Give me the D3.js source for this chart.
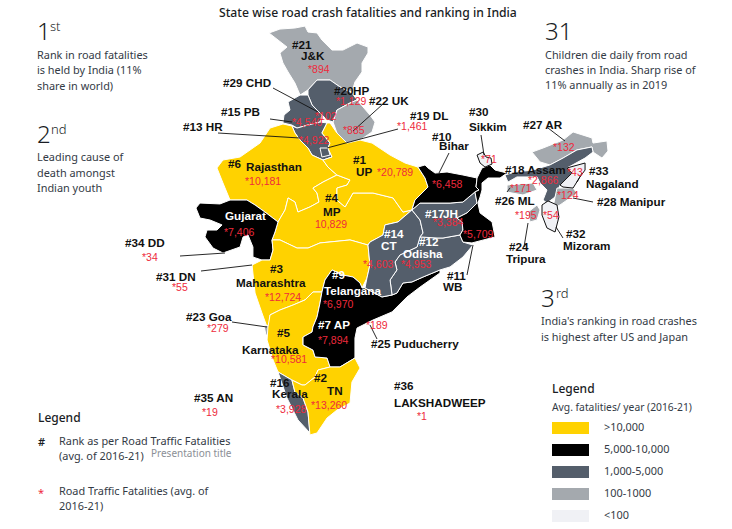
<!DOCTYPE html>
<html lang="en">
<head>
    <meta charset="UTF-8">
    <title>State wise road crash fatalities and ranking in India</title>
    <script src="https://d3js.org/d3.v7.min.js" charset="utf-8"></script>
    <style>
        body { margin: 0; background: white; }
        svg { display: block; }
        text { font-family: "Noto Sans", sans-serif; fill: #333a45; }
        .map-label { font-family: "Liberation Sans", Arial, sans-serif; font-size: 11.7px; font-weight: bold; fill: #111; }
        .map-label.light { fill: #fff; }
        .map-value { font-family: "Liberation Sans", Arial, sans-serif; font-size: 10.5px; fill: #ee2a3c; }
        .body-text { font-size: 10.9px; }
    </style>
</head>

<body>
    <script>
        var regionNames = ["J&K", "HP", "UK", "PB", "HR", "DL", "Rajasthan", "MP", "UP", "Gujarat", "Maharashtra", "Goa",
            "Karnataka", "AP + Telangana", "Odisha", "CT", "JH", "Bihar", "WB", "AR", "Assam", "ML", "Manipur", "Tripura",
            "Kerala", "TN", "Sikkim", "Nagaland", "Mizoram"];

        var regionFatalities = [894, 1129, 885, 4540, 4922, 1461, 10181, 10829, 20789, 7406, 12724, 279,
            10581, 7894, 4953, 4603, 3384, 6458, 5709, 132, 2866, 171, 124, 195,
            3928, 13260, 71, 43, 54];

        var regionOutlines = [
            [[73.6,36.67],[74.33,36.93],[75.33,37],[76,37.13],[76.2,36.73],[76.8,36.67],[77.13,36.2],[77.8,35.53],[78.53,35.53],[79.47,36],[80.2,35.73],[80.2,35.33],[79.8,34.67],[79.8,34.07],[79.33,33.4],[79.13,32.73],[78.33,33.07],[77.67,33.53],[76.8,33.53],[76.2,32.87],[75.67,32.53],[75.33,33.33],[74.87,34.07],[74.53,34.67],[74.33,35.33],[74.8,35.73],[74.2,36.2]],
            [[76.2,32.87],[76.8,33.53],[77.67,33.53],[78.33,33.07],[79.13,32.67],[79.47,32.2],[79,32],[78.13,31.53],[77.87,30.73],[77.47,30.87],[76.8,31.53],[76.47,31.87],[76.2,32.53]],
            [[78.13,31.53],[79,32],[79.47,32.2],[80.33,31.2],[80.67,30.73],[80.47,30.07],[79.67,29.53],[78.8,29.33],[78.13,30],[77.87,30.73]],
            [[75.67,32.53],[76.2,32.53],[76.47,31.87],[76.8,31.53],[77.13,31.2],[77,30.73],[76.2,30.53],[75.47,30.33],[75.13,30.53],[74.53,30.67],[74.6,31.2],[75,31.53],[74.87,32.07]],
            [[75.13,30.47],[75.47,30.33],[76.2,30.53],[77,30.73],[77.47,30.67],[77.13,30],[77.67,29.33],[77.53,29],[77.8,28.4],[77.2,28.2],[76.47,28.53],[76.2,29],[75.67,29.53],[75.33,30]],
            [[77,29],[77.53,29],[77.67,28.53],[77.13,28.4]],
            [[70.13,27.67],[70.53,28.2],[71.67,28.4],[73,29.33],[73.67,30.33],[74.53,30.6],[75.13,30.47],[75.33,30],[75.67,29.53],[76.2,29],[76.47,28.53],[77.2,28.2],[77.53,27.73],[78.13,27.2],[77.2,26.73],[76.53,26.33],[76.8,26],[76.93,25.4],[76.33,25.07],[75.53,24.73],[75.33,25.4],[74.87,25.67],[74.67,24.87],[74.2,24.07],[73.33,24.73],[72.67,25.2],[72.13,25.53],[71,25.53],[70.53,26.67]],
            [[74.2,24.07],[74.67,24.87],[74.87,25.67],[75.33,25.4],[75.53,24.73],[76.33,25.07],[76.93,25.4],[76.8,26],[76.53,26.33],[77.2,26.73],[78.13,27.2],[79,26.87],[78.8,26.53],[78.13,26.33],[78.13,25.53],[78.67,25.07],[79.2,26],[80.53,26],[81.87,25.67],[82.53,24.73],[83.13,24.87],[82.2,24.07],[81.33,23.87],[81.2,23.2],[80.33,22.73],[80.2,22.53],[79,22.87],[77,22.67],[76.2,22.33],[75.47,22.33],[74.33,22.87],[73.8,22.87],[74,23.4]],
            [[77.67,30.67],[78.13,30],[78.8,29.33],[79.67,29.53],[80.47,29.33],[81.67,28.53],[82.67,28],[83.53,27.73],[84,27],[84.2,26.4],[83.33,25.53],[83.13,24.87],[82.53,24.73],[81.87,25.67],[80.53,26],[79.2,26],[78.67,25.07],[78.13,25.53],[78.13,26.33],[78.8,26.53],[79,26.87],[78.13,27.2],[77.53,27.73],[77.2,28.2],[77.8,28.4],[77.53,29],[77.67,29.33],[77.13,30],[77.47,30.67]],
            [[68.73,25],[69,25.33],[70.33,25.27],[71,25.53],[72.13,25.53],[72.67,25.2],[73.33,24.73],[74.2,24.07],[74,23.4],[73.8,22.87],[73.87,22.2],[73.67,21.53],[73.13,21.53],[72.53,21.73],[72.53,22.4],[72.2,23.2],[71.87,23.07],[71.67,22.4],[70.53,22],[69.87,22.33],[69.33,23.07],[69.47,23.53],[70.13,23.53],[70.47,23.87],[69.67,24.2],[69,24.33]],
            [[72.47,21.2],[73.13,21.53],[73.67,21.53],[73.87,22.2],[73.8,22.87],[74.33,22.87],[75.47,22.33],[76.2,22.33],[77,22.67],[79,22.87],[80.2,22.53],[80.33,21.2],[80.13,20.33],[79.8,19.67],[79.67,20],[79.2,20.4],[78.53,20.53],[77.8,20.87],[77.33,20.2],[77.13,19.4],[76.53,19.4],[76,18.87],[75.2,18.53],[74.33,18.2],[73.67,17.87],[73.67,17.2],[73.47,17.07],[73.13,18],[72.67,19.33]],
            [[73.27,17.13],[73.67,17.2],[73.6,16.53],[73.4,16.53]],
            [[73.67,17.87],[74.33,18.2],[75.2,18.53],[76,18.87],[76.53,19.4],[77.13,19.4],[77,18.67],[76.8,17.73],[76.53,17.07],[76.47,16.73],[75.87,16.4],[75.87,15.87],[76.53,15.53],[76.67,15.07],[77.47,15],[77.67,14.4],[76.87,14.2],[76.67,13.73],[76,13.2],[75.8,13.2],[75.13,13.53],[74.2,14.07],[73.87,14.87],[73.47,16.2],[73.53,17.07]],
            [[77.13,19.4],[77.33,20.2],[77.8,20.87],[78.53,20.53],[79.2,20.4],[79.67,20],[79.8,19.67],[80,19.67],[81.13,19.07],[81.8,19.2],[82.13,19.33],[82.53,20],[83.13,20.07],[83.87,20.4],[85,20.87],[85,20.67],[83.67,19.73],[82.8,19.07],[81.8,18.07],[80.53,17.53],[79.47,17],[79.33,16.33],[79.33,15],[78.33,14.4],[77.67,14.4],[77.47,15],[76.67,15.07],[76.53,15.53],[75.87,15.87],[75.87,16.4],[76.47,16.73],[76.53,17.07],[76.8,17.73],[77,18.67]],
            [[81.8,19.2],[81.67,20.2],[82.13,20.87],[82,21.4],[82.33,21.87],[83.47,22.4],[83.67,23.07],[84.8,23],[85.2,23],[86.33,23.2],[86.53,22.73],[87.2,22.53],[86.53,21.73],[85.67,21.07],[85,20.87],[83.87,20.4],[83.13,20.07],[82.53,20],[82.13,19.33]],
            [[83.13,24.87],[82.2,24.07],[81.33,23.87],[81.2,23.2],[80.33,22.73],[80.2,22.53],[80.33,21.2],[80.13,20.33],[80,19.67],[81.13,19.07],[81.8,19.2],[81.67,20.2],[82.13,20.87],[82,21.4],[82.33,21.87],[83.47,22.4],[83.67,23.07],[83.87,23.33],[83.67,24.2]],
            [[83.13,24.87],[83.67,25.33],[85.67,25.33],[86.53,25.4],[87.33,26.07],[87.47,25.33],[86.8,24.67],[86.13,24.33],[86.47,24.07],[86.53,23.53],[86.33,23.2],[85.2,23],[84.8,23],[83.67,23.07],[83.87,23.33],[83.67,24.2]],
            [[83.53,27.73],[84,27.87],[84.2,27.67],[84.67,27.33],[85.47,27.4],[86.53,27.2],[87.47,27],[87.4,26.4],[87.6,26.2],[87.33,26.07],[86.53,25.4],[85.67,25.33],[83.67,25.33],[83.13,24.87],[83.33,25.53],[84.2,26.4],[84,27]],
            [[87.8,27.67],[88.33,27.87],[88.67,27.53],[89.2,27.4],[89.47,27.33],[89,27],[88.2,27],[87.8,26.67],[87.8,26.2],[87.67,25.73],[87.53,25.33],[87.67,24.67],[88.47,24.07],[88.67,23.07],[87.13,22.67],[86.53,22.73],[86.33,23.2],[86.53,23.53],[86.47,24.07],[86.13,24.33],[86.8,24.67],[87.47,25.33],[87.33,26.07],[87.6,26.2],[87.4,26.4],[87.47,27]],
            [[91.13,28.73],[91.87,29],[93.2,29.53],[93.87,30.07],[95.13,29.67],[95.2,29.33],[96.13,29.47],[96.2,28.8],[95.8,28.33],[95.2,28.73],[95.13,29.07],[94.13,28.87],[93.2,28.33],[92.33,27.87],[91.67,28.07]],
            [[89.33,27.2],[90,27.4],[91.2,27.53],[92.33,27.87],[93.2,28.33],[94.13,28.87],[95.13,29.07],[95.2,28.73],[94.67,28.33],[93.47,27.67],[93.8,27.33],[93,26.53],[92.67,25.73],[92.13,25.33],[91.87,25.53],[92.13,26.2],[91.67,26.67],[91.47,27.07],[90.13,27.07],[89.53,26.73]],
            [[89.47,26.53],[91.2,26.67],[91.47,26.2],[90.53,25.87],[89.8,26],[89.47,26.07]],
            [[92.8,26.33],[93.87,26.33],[94.13,26],[93.67,25.67],[93,25.2],[92.53,25],[92.67,25.73]],
            [[90.87,24.73],[91.47,25.2],[91.67,24.87],[91.47,24.2],[91,24.07]],
            [[74.2,14.07],[75.13,13.53],[75.33,12.73],[75.87,12.33],[76.2,11.4],[76.33,10],[75.53,10.87],[74.8,12.33]],
            [[75.8,13.2],[76,13.2],[76.67,13.73],[76.87,14.2],[77.67,14.4],[78.33,14.4],[79.33,15],[79.67,14.33],[79.13,13.4],[79,12],[78.13,11.53],[77.47,11],[76.8,10],[76.33,9.87],[76.2,11.4],[75.87,12.33],[75.33,12.73],[75.13,13.53]],
            [[87.47,28.53],[87.87,28.73],[88.07,28.4],[88.4,28.33],[88.47,27.93],[88,27.73],[87.67,28]],
            [[93.47,27.67],[94.67,28],[94.67,27.53],[94.33,27.07],[93.87,26.33],[93.2,26.4],[93,26.53],[93.8,27.33]],
            [[91.8,25.2],[92.2,25.47],[92.8,25.2],[92.93,24.4],[92.67,23.4],[92.13,23.67],[91.8,24.53]]
        ];

        // legend bands
        var bandLimits = [100, 1000, 5000, 10000];
        var bandColors = ["#f0f1f5", "#a4a9ae", "#545e6b", "#000000", "#ffd200"];
        var bandLabels = ["<100", "100-1000", "1,000-5,000", "5,000-10,000", ">10,000"];

        // text on the map
        var mapLabels = ["#21", "J&K", "#29 CHD", "#20", "HP", "#22 UK", "#15 PB", "#13 HR", "#19 DL", "#6", "Rajasthan", "#1", "UP", "#4", "MP",
            "Gujarat", "#34 DD", "#31 DN", "#3", "Maharashtra", "#9", "Telangana", "#23 Goa", "#5", "Karnataka", "#7 AP", "#25 Puducherry",
            "#2", "TN", "#16", "Kerala", "#35 AN", "#36", "LAKSHADWEEP", "#30", "Sikkim", "#10", "Bihar", "#27 AR", "#18 Assam", "#33", "Nagaland",
            "#26 ML", "#28 Manipur", "#32", "Mizoram", "#24", "Tripura", "#17", "JH", "#12", "Odisha", "#14", "CT", "#11", "WB"];
        var mapValues = ["*894", "*102", "*1,129", "*885", "*4,540", "*4,922", "*1,461", "*10,181", "*20,789", "10,829", "*7,406", "*34", "*55",
            "*12,724", "*6,970", "*279", "*10,581", "*7,894", "*189", "*13,260", "*3,928", "*19", "*1", "*71", "*6,458", "*132", "*2,866", "*43",
            "*171", "*124", "*195", "*54", "*3,384", "*5,709", "*4,953", "*4,603"];

        // where those texts sit on the page, same order as the lists above
        var labelSpots = [[292,49],[301,60],[223,87],[334,95],[353,95],[369,105],[221,116],[183,131],[410,120],[228,168],[246,171],[353,164],[356,176],[325,202],[323,216],
            [225,220],[125,247],[156,281],[270,273],[236,287],[332,279],[324,295],[186,321],[277,337],[242,354],[318,329],[371,348],
            [314,382],[327,395],[270,387],[272,398],[194,402],[394,390],[394,407],[469,116],[469,131],[432,141],[439,150],[523,129],[505,174],[589,175],[586,188],
            [495,205],[597,206],[566,238],[563,250],[509,251],[506,263],[425,218],[443,218],[419,246],[403,258],[384,238],[381,250],[447,280],[443,291]];
        var valueSpots = [[308,73],[315,120],[336,105],[343,134],[292,126],[299,144],[397,130],[245,185],[377,176],[315,228],[224,236],[142,261],[172,291],
            [265,301],[323,308],[207,332],[271,363],[318,344],[366,329],[311,409],[276,413],[202,416],[417,420],[481,163],[432,188],[553,151],[528,184],[567,176],
            [510,192],[557,199],[515,219],[543,219],[433,226],[463,238],[401,268],[363,268]];
        var whiteLabels = ["Gujarat", "#9", "Telangana", "#7 AP", "#17", "JH", "#12", "Odisha", "#14", "CT"];
        var leaderLines = [[273,88,318,112],[270,119,292,122],[218,133,300,138],[383,104,353,131],[398,129,327,148],[449,153,439,173],[481,135,484,155],
            [548,128,565,141],[573,198,593,202],[507,192,510,188],[528,223,524,247],[556,227,563,238],[582,173,577,182],[473,245,467,275],
            [180,256,225,253],[201,271,252,265],[232,322,267,327],[370,325,377,339]];

        var width = 732;
        var height = 529;

        var svg = d3.select("body")
                    .append("svg")
                    .attr("width", width)
                    .attr("height", height);

        var fillBand = d3.scaleThreshold().domain(bandLimits).range(bandColors);

        // plain lon/lat grid, 15px to the degree
        var mapProjection = d3.geoIdentity().reflectY(true).scale(15).translate([-835, 583]);
        var geoPath = d3.geoPath().projection(mapProjection);

        var regions = regionNames.map(function (name, i) {
            return {
                type: "Feature",
                properties: { name: name, fatalities: regionFatalities[i] },
                geometry: { type: "Polygon", coordinates: [regionOutlines[i].concat([regionOutlines[i][0]])] }
            };
        });

        svg.append("g").selectAll("path")
            .data(regions)
            .enter()
            .append("path")
            .attr("fill", function (d) { return fillBand(d.properties.fatalities); })
            .attr("stroke", function (d) { return d.properties.fatalities < 100 ? "#111" : "#fff"; })
            .attr("stroke-width", 1)
            .attr("stroke-linejoin", "round")
            .attr("d", geoPath);

        svg.append("g").selectAll("line")
            .data(leaderLines)
            .enter()
            .append("line")
            .attr("x1", function (d) { return d[0]; })
            .attr("y1", function (d) { return d[1]; })
            .attr("x2", function (d) { return d[2]; })
            .attr("y2", function (d) { return d[3]; })
            .attr("stroke", "#111")
            .attr("stroke-width", 0.9);

        svg.append("g").selectAll("text")
            .data(mapLabels)
            .enter()
            .append("text")
            .attr("class", function (d) { return whiteLabels.indexOf(d) >= 0 ? "map-label light" : "map-label"; })
            .attr("x", function (d, i) { return labelSpots[i][0]; })
            .attr("y", function (d, i) { return labelSpots[i][1]; })
            .text(function (d) { return d; });

        svg.append("g").selectAll("text")
            .data(mapValues)
            .enter()
            .append("text")
            .attr("class", "map-value")
            .attr("x", function (d, i) { return valueSpots[i][0]; })
            .attr("y", function (d, i) { return valueSpots[i][1]; })
            .text(function (d) { return d; });

        // title and side notes
        svg.append("text")
            .attr("x", 219).attr("y", 17)
            .attr("font-size", 12.2).attr("font-weight", 500)
            .style("fill", "#1a1d24")
            .text("State wise road crash fatalities and ranking in India");

        function addNote(x, y, big, sup, supX, lines, lineY) {
            svg.append("text").attr("x", x).attr("y", y).attr("font-size", 24).attr("font-weight", 300).style("fill", "#1a1d24").text(big);
            if (sup) {
                svg.append("text").attr("x", supX).attr("y", y - 9).attr("font-size", 13).attr("font-weight", 300).style("fill", "#1a1d24").text(sup);
            }
            lines.forEach(function (line, i) {
                svg.append("text").attr("class", "body-text").attr("x", x).attr("y", lineY[i]).text(line);
            });
        }

        addNote(37, 40, "1", "st", 50, ["Rank in road fatalities", "is held by India (11%", "share in world)"], [59, 74, 90]);
        addNote(37, 143, "2", "nd", 51, ["Leading cause of", "death amongst", "Indian youth"], [161, 177, 192]);
        addNote(545, 40, "31", null, 0, ["Children die daily from road", "crashes in India. Sharp rise of", "11% annually as in 2019"], [59, 74, 89]);
        addNote(541, 307, "3", "rd", 556, ["India's ranking in road crashes", "is highest after US and Japan"], [325, 341]);

        // left legend
        svg.append("text").attr("x", 38).attr("y", 422).attr("font-size", 12).attr("font-weight", 500).style("fill", "#1a1d24").text("Legend");
        svg.append("text").attr("x", 38).attr("y", 446).attr("font-size", 11).attr("font-weight", 600).style("fill", "#1a1d24").text("#");
        svg.append("text").attr("class", "body-text").attr("x", 59).attr("y", 445).text("Rank as per Road Traffic Fatalities");
        svg.append("text").attr("class", "body-text").attr("x", 59).attr("y", 460).text("(avg. of 2016-21)");
        svg.append("text").attr("x", 151).attr("y", 457).attr("font-size", 10).style("fill", "#8b8f96").text("Presentation title");
        svg.append("text").attr("x", 38).attr("y", 497).attr("font-size", 11).style("fill", "#ee2a3c").text("*");
        svg.append("text").attr("class", "body-text").attr("x", 59).attr("y", 495).text("Road Traffic Fatalities (avg. of");
        svg.append("text").attr("class", "body-text").attr("x", 59).attr("y", 510).text("2016-21)");

        // colour legend, top band first
        svg.append("text").attr("x", 552).attr("y", 393).attr("font-size", 12).attr("font-weight", 500).style("fill", "#1a1d24").text("Legend");
        svg.append("text").attr("x", 552).attr("y", 411).attr("font-size", 10.3).text("Avg. fatalities/ year (2016-21)");

        var legendOrder = d3.range(bandLabels.length).reverse();
        var legendRow = d3.scaleLinear().domain([0, 4]).range([422, 510]);

        svg.append("g").selectAll("rect")
            .data(legendOrder)
            .enter()
            .append("rect")
            .attr("x", 552)
            .attr("y", function (d, i) { return legendRow(i); })
            .attr("width", 37)
            .attr("height", 12)
            .attr("fill", function (d) { return bandColors[d]; });

        svg.append("g").selectAll("text")
            .data(legendOrder)
            .enter()
            .append("text")
            .attr("class", "body-text")
            .attr("x", 604)
            .attr("y", function (d, i) { return legendRow(i) + 9; })
            .text(function (d) { return bandLabels[d]; });
    </script>
</body>
</html>
